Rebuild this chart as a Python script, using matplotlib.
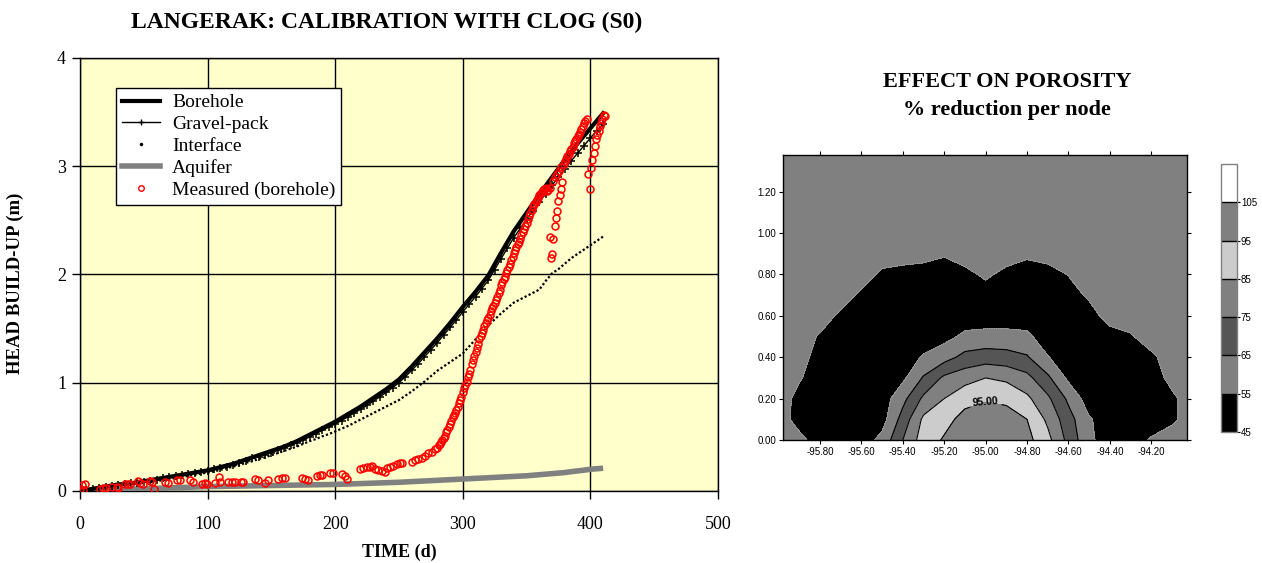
#!/usr/bin/env python3
# -*- coding: utf-8 -*-

import numpy as np
import matplotlib
matplotlib.use("Agg")
import matplotlib.pyplot as plt
from matplotlib.lines import Line2D
from matplotlib.ticker import FormatStrFormatter

plt.rcParams["axes.unicode_minus"] = False

# -----------------------
# Data: left chart (head build-up vs time)
# -----------------------
T_MODEL = np.arange(0, 415, 5)  # model output every 5 days, 0..410

BOREHOLE = [
    0.00, 0.01, 0.02, 0.03, 0.04, 0.05, 0.06, 0.065, 0.07, 0.08,
    0.09, 0.10, 0.11, 0.12, 0.13, 0.14, 0.15, 0.16, 0.17, 0.18,
    0.19, 0.205, 0.22, 0.235, 0.25, 0.27, 0.29, 0.31, 0.33, 0.35,
    0.37, 0.39, 0.41, 0.435, 0.46, 0.49, 0.52, 0.55, 0.58, 0.61,
    0.64, 0.675, 0.71, 0.745, 0.78, 0.82, 0.86, 0.90, 0.94, 0.985,
    1.03, 1.09, 1.15, 1.215, 1.28, 1.345, 1.41, 1.48, 1.55, 1.625,
    1.70, 1.77, 1.84, 1.915, 1.99, 2.095, 2.20, 2.30, 2.40, 2.485,
    2.57, 2.655, 2.74, 2.82, 2.90, 2.98, 3.06, 3.135, 3.21, 3.28,
    3.35, 3.42, 3.49,
]

GRAVEL_PACK = [
    0.00, 0.01, 0.02, 0.03, 0.04, 0.05, 0.055, 0.06, 0.07, 0.075,
    0.085, 0.095, 0.105, 0.115, 0.125, 0.135, 0.145, 0.155, 0.165, 0.175,
    0.185, 0.20, 0.21, 0.225, 0.24, 0.26, 0.28, 0.30, 0.315, 0.335,
    0.355, 0.375, 0.395, 0.42, 0.445, 0.47, 0.50, 0.53, 0.56, 0.59,
    0.62, 0.65, 0.685, 0.72, 0.755, 0.79, 0.83, 0.87, 0.91, 0.955,
    1.00, 1.055, 1.115, 1.175, 1.24, 1.305, 1.37, 1.44, 1.51, 1.58,
    1.655, 1.725, 1.795, 1.87, 1.945, 2.045, 2.145, 2.245, 2.34, 2.425,
    2.51, 2.59, 2.67, 2.745, 2.825, 2.90, 2.975, 3.05, 3.12, 3.19,
    3.26, 3.33, 3.39,
]

INTERFACE = [
    0.00, 0.01, 0.02, 0.03, 0.035, 0.045, 0.05, 0.055, 0.06, 0.065,
    0.075, 0.08, 0.09, 0.10, 0.11, 0.12, 0.13, 0.14, 0.15, 0.16,
    0.17, 0.18, 0.195, 0.21, 0.225, 0.24, 0.26, 0.275, 0.295, 0.31,
    0.33, 0.35, 0.37, 0.39, 0.41, 0.435, 0.46, 0.48, 0.505, 0.525,
    0.55, 0.575, 0.60, 0.63, 0.66, 0.69, 0.72, 0.75, 0.78, 0.81,
    0.84, 0.88, 0.92, 0.965, 1.01, 1.06, 1.11, 1.15, 1.19, 1.23,
    1.27, 1.335, 1.40, 1.465, 1.53, 1.585, 1.64, 1.69, 1.74, 1.77,
    1.80, 1.83, 1.86, 1.94, 2.01, 2.05, 2.10, 2.15, 2.19, 2.23,
    2.27, 2.31, 2.35,
]

AQUIFER = [
    0.00, 0.002, 0.004, 0.006, 0.008, 0.01, 0.012, 0.014, 0.016, 0.018,
    0.02, 0.022, 0.024, 0.026, 0.028, 0.03, 0.032, 0.034, 0.036, 0.038,
    0.04, 0.041, 0.042, 0.043, 0.044, 0.045, 0.046, 0.047, 0.048, 0.049,
    0.05, 0.051, 0.052, 0.053, 0.054, 0.055, 0.056, 0.057, 0.058, 0.059,
    0.06, 0.062, 0.064, 0.066, 0.068, 0.07, 0.072, 0.074, 0.076, 0.078,
    0.08, 0.083, 0.086, 0.089, 0.092, 0.095, 0.098, 0.101, 0.104, 0.107,
    0.11, 0.113, 0.116, 0.119, 0.122, 0.125, 0.128, 0.131, 0.134, 0.137,
    0.14, 0.145, 0.15, 0.155, 0.16, 0.165, 0.17, 0.178, 0.185, 0.192,
    0.20, 0.205, 0.21,
]

MEAS_T = [
    0, 1.8, 2.6, 3.9, 15.7, 18.3, 20.1, 25.3, 28.7, 30.0,
    35.3, 37.9, 39.2, 45.7, 47.0, 49.6, 54.9, 56.7, 58.3, 66.6,
    69.2, 75.8, 78.4, 86.2, 88.8, 95.4, 98.0, 99.3, 105.8, 109.0,
    109.7, 116.3, 118.9, 121.5, 126.0, 128.0, 137.2, 139.2, 145.0, 147.6,
    155.4, 158.0, 160.7, 173.7, 176.3, 179.0, 185.5, 188.0, 189.4, 196.0,
    198.5, 205.1, 207.7, 209.5, 219.4, 222.0, 224.6, 227.3, 228.6, 231.2,
    233.8, 236.4, 239.0, 240.3, 243.0, 245.6, 248.2, 250.8, 252.1, 260.0,
    262.5, 265.1, 267.8, 270.4, 273.0, 275.6, 278.2, 280, 281, 282,
    283, 284, 285, 286, 287, 288, 289, 290, 291, 292,
    293, 294, 295, 296, 297, 298, 299, 300, 301, 302,
    303, 304, 305, 306, 307, 308, 309, 310, 311, 312,
    313, 314, 315, 316, 317, 318, 319, 320, 321, 322,
    323, 324, 325, 326, 327, 328, 329, 330, 331, 332,
    333, 334, 335, 336, 337, 338, 339, 340, 341, 342,
    343, 344, 345, 346, 347, 348, 349, 350, 351, 352,
    353, 354, 355, 356, 357, 358, 359, 360, 361, 362,
    363, 364, 365, 366, 367, 368, 368.5, 369, 370, 370.5,
    372, 373, 374, 375, 376, 377, 378, 371, 372.5, 374,
    375.5, 377, 379, 380, 381, 382, 383, 384, 385, 386,
    387, 388, 389, 390, 391, 392, 393, 394, 395, 396,
    397, 398.5, 399.5, 400.5, 401.5, 402.5, 403.5, 404.5, 405.5, 406.5,
    407.5, 408.5, 409.5, 410.5, 411.5,
]

MEAS_H = [
    0.02, 0.056, 0.01, 0.065, 0.015, 0.025, 0.03, 0.04, 0.04, 0.03,
    0.06, 0.065, 0.06, 0.095, 0.077, 0.06, 0.095, 0.086, 0.02, 0.086,
    0.077, 0.10, 0.10, 0.10, 0.086, 0.06, 0.07, 0.065, 0.077, 0.13,
    0.086, 0.086, 0.086, 0.086, 0.086, 0.086, 0.11, 0.10, 0.077, 0.10,
    0.11, 0.117, 0.117, 0.117, 0.11, 0.10, 0.14, 0.148, 0.145, 0.17,
    0.17, 0.16, 0.14, 0.114, 0.203, 0.21, 0.22, 0.225, 0.234, 0.20,
    0.194, 0.188, 0.179, 0.21, 0.22, 0.234, 0.25, 0.262, 0.262, 0.265,
    0.287, 0.293, 0.302, 0.324, 0.349, 0.364, 0.386, 0.40, 0.42, 0.43,
    0.45, 0.47, 0.49, 0.51, 0.54, 0.56, 0.59, 0.62, 0.65, 0.68,
    0.70, 0.72, 0.75, 0.78, 0.81, 0.84, 0.87, 0.91, 0.95, 0.98,
    1.01, 1.05, 1.08, 1.12, 1.17, 1.21, 1.25, 1.28, 1.32, 1.36,
    1.40, 1.43, 1.46, 1.49, 1.52, 1.55, 1.58, 1.60, 1.63, 1.66,
    1.69, 1.71, 1.74, 1.76, 1.79, 1.83, 1.86, 1.90, 1.93, 1.96,
    1.98, 2.01, 2.04, 2.07, 2.10, 2.13, 2.16, 2.20, 2.23, 2.25,
    2.28, 2.30, 2.33, 2.36, 2.39, 2.42, 2.45, 2.48, 2.51, 2.54,
    2.57, 2.60, 2.63, 2.65, 2.67, 2.69, 2.71, 2.73, 2.75, 2.76,
    2.78, 2.79, 2.80, 2.77, 2.78, 2.80, 2.35, 2.15, 2.19, 2.33,
    2.45, 2.52, 2.59, 2.68, 2.73, 2.79, 2.85, 2.86, 2.90, 2.93,
    2.96, 2.99, 3.02, 3.05, 3.07, 3.09, 3.11, 3.14, 3.16, 3.18,
    3.21, 3.23, 3.25, 3.28, 3.30, 3.32, 3.34, 3.37, 3.40, 3.42,
    3.44, 2.93, 2.79, 2.98, 3.06, 3.12, 3.19, 3.25, 3.29, 3.33,
    3.37, 3.40, 3.44, 3.47, 3.46,
]

# -----------------------
# Data: right chart (porosity reduction contour)
# -----------------------
GRID_X = [-96.0, -95.9, -95.8, -95.7, -95.6, -95.5, -95.4, -95.3, -95.2, -95.1, -95.0,
          -94.9, -94.8, -94.7, -94.6, -94.5, -94.4, -94.3, -94.2, -94.1, -94.0]
GRID_Y = [0.0, 0.1, 0.2, 0.3, 0.4, 0.5, 0.6, 0.7, 0.8, 0.9, 1.0, 1.1, 1.2, 1.3, 1.4]

# one row per GRID_Y value (bottom to top), one column per GRID_X value
POROSITY = [
    [60, 58, 50, 50, 50, 58, 75, 90, 96, 99, 100, 100, 98, 88, 72, 57, 50, 50, 56, 60, 60],
    [60, 51, 50, 50, 50, 51, 69, 87, 92, 98, 100, 99, 95, 83, 69, 56, 50, 50, 50, 53, 60],
    [60, 52, 50, 50, 50, 50, 62, 77, 85, 92, 94, 93, 87, 77, 63, 50, 50, 50, 50, 53, 60],
    [60, 56, 50, 50, 50, 50, 53, 66, 77, 81, 85, 83, 78, 67, 53, 50, 50, 50, 50, 58, 60],
    [60, 60, 50, 50, 50, 50, 50, 56, 61, 68, 70, 69, 66, 55.5, 50, 50, 50, 50, 53, 60, 60],
    [60, 60, 54, 50, 50, 50, 50, 50, 52, 57, 58, 58, 57, 50, 50, 50, 50, 54, 60, 60, 60],
    [60, 60, 60, 53, 50, 50, 50, 50, 50, 50, 50, 50, 50, 50, 50, 50, 60, 60, 60, 60, 60],
    [60, 60, 60, 60, 53, 50, 50, 50, 50, 50, 50, 50, 50, 50, 50, 57, 60, 60, 60, 60, 60],
    [60, 60, 60, 60, 60, 53, 51, 50, 50, 52, 57, 52, 50, 50, 55.5, 60, 60, 60, 60, 60, 60],
    [60, 60, 60, 60, 60, 60, 60, 59, 56, 60, 60, 60, 57, 60, 60, 60, 60, 60, 60, 60, 60],
    [60] * 21,
    [60] * 21,
    [60] * 21,
    [60] * 21,
    [60] * 21,
]

LEVELS = [45, 55, 65, 75, 85, 95, 105, 115]
LEVEL_COLORS = ["#000000", "#808080", "#555555", "#808080", "#cccccc", "#808080", "#ffffff"]
X_TICKS = [-95.8, -95.6, -95.4, -95.2, -95.0, -94.8, -94.6, -94.4, -94.2]
Y_TICKS = [0.0, 0.2, 0.4, 0.6, 0.8, 1.0, 1.2]

SERIF = "Liberation Serif"
SANS = "Liberation Sans"


# -----------------------
# Helpers
# -----------------------
def draw_buildup(ax):
    """Head build-up time series with measured points."""
    ax.set_facecolor("#ffffcc")
    ax.plot(T_MODEL, AQUIFER, color="#808080", lw=4, solid_capstyle="butt", zorder=3)
    ax.plot(T_MODEL, INTERFACE, color="black", lw=1.6, ls=(0, (1, 1)), zorder=3)
    ax.plot(T_MODEL, GRAVEL_PACK, color="black", lw=1, marker="+", ms=6, mew=1.1, zorder=4)
    ax.plot(T_MODEL, BOREHOLE, color="black", lw=3, zorder=4)
    ax.plot(MEAS_T, MEAS_H, ls="none", marker="o", ms=5, mfc="none", mec="red", mew=1.1, zorder=5)

    ax.set_xlim(0, 500)
    ax.set_ylim(0, 4)
    ax.set_xticks([0, 100, 200, 300, 400, 500])
    ax.set_yticks([0, 1, 2, 3, 4])
    ax.grid(True, color="black", lw=1)
    ax.set_axisbelow(True)
    for sp in ax.spines.values():
        sp.set_color("black")
        sp.set_linewidth(1)
    ax.tick_params(direction="out", length=6, width=1, labelsize=13)
    ax.tick_params(axis="x", pad=12)
    ax.tick_params(axis="y", pad=4)
    for lab in ax.get_xticklabels() + ax.get_yticklabels():
        lab.set_family(SERIF)

    ax.set_xlabel("TIME (d)", family=SERIF, fontsize=13, fontweight="bold", labelpad=8)
    ax.set_ylabel("HEAD BUILD-UP (m)", family=SERIF, fontsize=13.5, fontweight="bold")
    ax.yaxis.set_label_coords(-0.088, 0.48)

    handles = [
        Line2D([], [], color="black", lw=3),
        Line2D([], [], color="black", lw=1, marker="+", ms=5, mew=1),
        Line2D([], [], ls="none", marker=".", ms=3, color="black"),
        Line2D([], [], color="#808080", lw=4),
        Line2D([], [], ls="none", marker="o", ms=4, mfc="none", mec="red", mew=1),
    ]
    labels = ["Borehole", "Gravel-pack", "Interface", "Aquifer", "Measured (borehole)"]
    leg = ax.legend(handles, labels, loc="upper left", bbox_to_anchor=(0.056, 0.931),
                    prop={"family": SERIF, "size": 14}, frameon=True, fancybox=False,
                    framealpha=1, edgecolor="black", borderpad=0.3, labelspacing=0.22,
                    handlelength=2.0, handletextpad=0.6, borderaxespad=0)
    leg.get_frame().set_linewidth(1)
    leg.set_zorder(10)


def draw_porosity(ax, cax):
    """Filled contour of the porosity reduction with its colour bar."""
    xx, yy = np.meshgrid(GRID_X, GRID_Y)
    zz = np.array(POROSITY, dtype=float)

    filled = ax.contourf(xx, yy, zz, levels=LEVELS, colors=LEVEL_COLORS)
    ax.contour(xx, yy, zz, levels=[55], colors="#d0d0d0", linewidths=0.5, linestyles=":")
    ax.contour(xx, yy, zz, levels=[65, 75, 85], colors="black", linewidths=0.8)
    line95 = ax.contour(xx, yy, zz, levels=[95], colors="black", linewidths=0.8)
    labs = ax.clabel(line95, fmt="%.2f", manual=[(-95.0, 0.185)], fontsize=7.5,
                     inline=True, inline_spacing=1)
    for t in labs:
        t.set_family(SANS)
        t.set_fontweight("bold")

    ax.set_xlim(-95.977, -94.029)
    ax.set_ylim(0, 1.377)
    ax.set_xticks(X_TICKS)
    ax.set_yticks(Y_TICKS)
    ax.xaxis.set_major_formatter(FormatStrFormatter("%.2f"))
    ax.yaxis.set_major_formatter(FormatStrFormatter("%.2f"))
    ax.tick_params(direction="out", length=3, width=0.8, labelsize=7, pad=2,
                   top=True, right=True, labeltop=False, labelright=False)
    for lab in ax.get_xticklabels() + ax.get_yticklabels():
        lab.set_family(SANS)
    for sp in ax.spines.values():
        sp.set_color("black")
        sp.set_linewidth(1)

    cb = plt.colorbar(filled, cax=cax, ticks=LEVELS[:-1], drawedges=True)
    cb.outline.set_edgecolor("#808080")
    cb.outline.set_linewidth(1)
    cb.dividers.set_color("black")
    cb.dividers.set_linewidth(1)
    cax.tick_params(length=2, width=0.8, labelsize=7, pad=1)
    for lab in cax.get_yticklabels():
        lab.set_family(SANS)


# -----------------------
# Main
# -----------------------
def main():
    fig = plt.figure(figsize=(12.62, 5.63), dpi=100)

    ax = fig.add_axes([0.0634, 0.128, 0.5055, 0.769])
    draw_buildup(ax)
    fig.text(0.306, 0.961, "LANGERAK: CALIBRATION WITH CLOG (S0)", family=SERIF,
             fontsize=17, fontweight="bold", ha="center", va="center")

    axc = fig.add_axes([0.6207, 0.2185, 0.3196, 0.5062])
    cbax = fig.add_axes([0.9673, 0.2327, 0.0127, 0.476])
    draw_porosity(axc, cbax)
    fig.text(0.798, 0.854, "EFFECT ON POROSITY", family=SERIF, fontsize=16,
             fontweight="bold", ha="center", va="center")
    fig.text(0.798, 0.805, "% reduction per node", family=SERIF, fontsize=16,
             fontweight="bold", ha="center", va="center")

    fig.savefig("out.png", dpi=100)
    plt.close(fig)


if __name__ == "__main__":
    main()
